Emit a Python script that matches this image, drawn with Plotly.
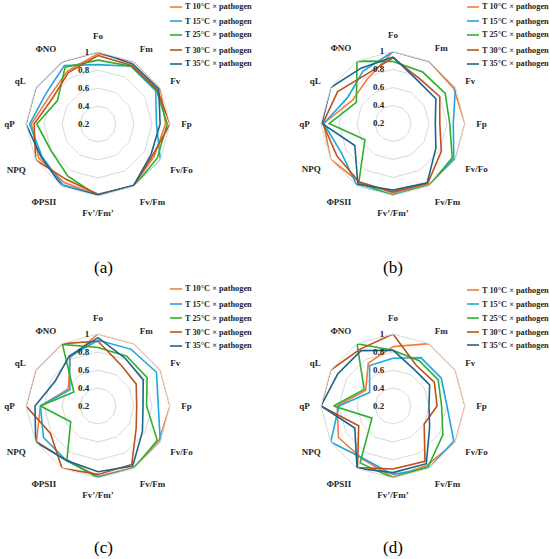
import plotly.graph_objects as go

W, H = 550, 559

categories = ["Fo", "Fm", "Fv", "Fp", "Fv/Fo", "Fv/Fm", "Fv’/Fm’", "ΦPSII", "NPQ", "qP", "qL", "ΦNO"]
series_names = ["T 10°C × pathogen", "T 15°C × pathogen", "T 25°C × pathogen",
                "T 30°C × pathogen", "T 35°C × pathogen"]
colors = ["#F47B3B", "#1EA8E0", "#2DB12D", "#C0501A", "#1D6589"]

# panel (a)
a_t10 = [0.98, 1.00, 1.00, 0.95, 0.92, 0.99, 0.99, 0.95, 0.96, 0.94, 0.82, 0.88]
a_t15 = [0.86, 0.94, 0.94, 0.85, 1.00, 1.00, 0.99, 0.98, 0.92, 0.96, 0.87, 0.95]
a_t25 = [0.91, 0.94, 0.95, 0.97, 0.96, 1.00, 1.00, 0.87, 0.80, 0.88, 0.72, 0.93]
a_t30 = [0.96, 0.95, 0.96, 1.00, 0.90, 0.99, 0.98, 0.91, 1.00, 0.91, 0.78, 0.86]
a_t35 = [1.00, 0.97, 0.98, 0.89, 0.88, 0.99, 0.99, 1.00, 0.93, 1.00, 1.00, 1.00]
# panel (b)
b_t10 = [1.00, 1.00, 0.98, 1.00, 1.00, 0.99, 0.97, 0.95, 1.00, 0.97, 0.72, 0.77]
b_t15 = [1.00, 1.00, 1.00, 0.87, 0.98, 1.00, 0.99, 1.00, 0.86, 0.97, 0.78, 0.87]
b_t25 = [0.89, 0.86, 0.87, 0.83, 0.96, 1.00, 1.00, 0.96, 0.56, 0.91, 0.67, 1.00]
b_t30 = [0.93, 0.78, 0.80, 0.72, 0.82, 0.97, 0.96, 0.95, 0.92, 0.98, 0.91, 0.82]
b_t35 = [0.94, 0.75, 0.75, 0.67, 0.75, 0.96, 0.94, 0.98, 0.69, 0.99, 1.00, 0.91]
# panel (c)
c_t10 = [1.00, 1.00, 1.00, 1.00, 0.98, 0.99, 0.98, 0.90, 0.99, 0.84, 0.58, 0.82]
c_t15 = [0.93, 0.93, 0.95, 0.87, 1.00, 1.00, 0.99, 0.90, 0.90, 0.84, 0.56, 0.83]
c_t25 = [0.85, 0.84, 0.83, 0.74, 0.96, 1.00, 1.00, 0.89, 0.55, 0.84, 0.51, 0.99]
c_t30 = [0.92, 0.72, 0.69, 0.63, 0.69, 0.95, 0.96, 1.00, 0.81, 1.00, 1.00, 1.00]
c_t35 = [0.96, 0.81, 0.78, 0.70, 0.77, 0.97, 0.93, 0.90, 1.00, 0.90, 0.75, 0.84]
# panel (d)
d_t10 = [0.86, 1.00, 1.00, 1.00, 1.00, 0.96, 0.99, 0.88, 0.90, 0.82, 0.55, 0.75]
d_t15 = [0.73, 0.82, 0.82, 0.80, 0.98, 1.00, 0.96, 0.87, 1.00, 0.80, 0.50, 0.72]
d_t25 = [0.82, 0.78, 0.78, 0.74, 0.84, 0.98, 1.00, 0.93, 0.47, 0.86, 0.57, 1.00]
d_t30 = [1.00, 0.72, 0.73, 0.69, 0.60, 0.91, 0.90, 0.99, 0.64, 1.00, 1.00, 0.93]
d_t35 = [0.82, 0.67, 0.67, 0.60, 0.67, 0.94, 0.94, 1.00, 0.69, 1.00, 0.91, 0.91]

panels = [
    ("(a)", [a_t10, a_t15, a_t25, a_t30, a_t35]),
    ("(b)", [b_t10, b_t15, b_t25, b_t30, b_t35]),
    ("(c)", [c_t10, c_t15, c_t25, c_t30, c_t35]),
    ("(d)", [d_t10, d_t15, d_t25, d_t30, d_t35]),
]
radial_ticks = [0.2, 0.4, 0.6, 0.8, 1.0]
radial_ticktext = ["0.2", "0.4", "0.6", "0.8", "1"]

# layout geometry (pixels)
centers = [(98, 124), (393, 123.5), (98, 406), (393, 406)]
R = 72
legend_x = [170, 467, 170, 467]
legend_rows = [[7, 21, 35, 50, 64], [7, 21, 35, 50, 64],
               [289, 304, 318, 332, 346], [290, 304, 318, 332, 345]]
caption_pos = [(103, 267), (393, 267), (103, 547), (393, 547)]

FONT = "Liberation Serif"
TXT = "#262626"


def px(x):
    return x / W


def py(y):
    return 1 - y / H


fig = go.Figure()
shapes, annotations = [], []
for k, (cap, data) in enumerate(panels):
    pname = "polar" if k == 0 else f"polar{k + 1}"
    for name, vals, col in zip(series_names, data, colors):
        fig.add_trace(go.Scatterpolar(
            r=vals + vals[:1], theta=categories + categories[:1],
            mode="lines", name=name, subplot=pname, showlegend=False,
            line=dict(color=col, width=1.6),
        ))
    cx, cy = centers[k]
    fig.layout[pname] = dict(
        domain=dict(x=[px(cx - R), px(cx + R)], y=[py(cy + R), py(cy - R)]),
        bgcolor="rgba(0,0,0,0)",
        gridshape="linear",
        radialaxis=dict(range=[0.2, 1.0], tickvals=radial_ticks, ticktext=radial_ticktext,
                        angle=90, tickangle=90, showline=False,
                        ticks="outside", ticklen=5, tickcolor="rgba(0,0,0,0)",
                        gridcolor="#d9d9d9", gridwidth=1, side="counterclockwise",
                        tickfont=dict(family=FONT, size=9, color=TXT, weight="bold")),
        angularaxis=dict(direction="clockwise", rotation=90, type="category",
                         categoryarray=categories, showgrid=False,
                         showline=True, linecolor="#d9d9d9", linewidth=1,
                         ticks="outside", ticklen=9, tickcolor="rgba(0,0,0,0)",
                         tickfont=dict(family=FONT, size=9, color=TXT, weight="bold")),
    )
    # legend
    for i, (name, col) in enumerate(zip(series_names, colors)):
        yy = legend_rows[k][i]
        x0 = legend_x[k]
        shapes.append(dict(type="line", xref="paper", yref="paper",
                           x0=px(x0), x1=px(x0 + 12), y0=py(yy), y1=py(yy),
                           line=dict(color=col, width=1.6)))
        annotations.append(dict(text=name, xref="paper", yref="paper",
                                x=px(x0 + 12.5), y=py(yy), xanchor="left", yanchor="middle",
                                showarrow=False,
                                font=dict(family=FONT, size=8.3, color=TXT, weight="bold")))
    annotations.append(dict(text=cap, xref="paper", yref="paper",
                            x=px(caption_pos[k][0]), y=py(caption_pos[k][1]),
                            xanchor="center", yanchor="middle", showarrow=False,
                            font=dict(family=FONT, size=17, color="#000000")))

fig.update_layout(
    width=W, height=H, margin=dict(l=0, r=0, t=0, b=0),
    paper_bgcolor="white", plot_bgcolor="white",
    shapes=shapes, annotations=annotations, showlegend=False,
)

fig.write_html("out.html", config={"displayModeBar": False},
               post_script="document.body.style.margin='0';document.body.style.overflow='hidden';")
